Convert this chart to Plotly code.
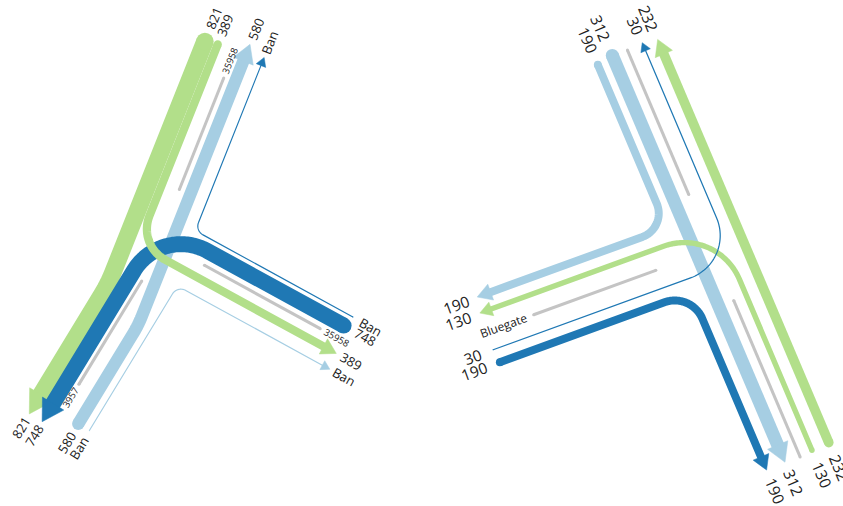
import numpy as np
import plotly.graph_objects as go

# ---------------- data ----------------
# Left junction: flows between the north (N), east (E) and south-west (SW) arms
left_values = [821, 748, 580, 389, 55, 55]
left_labels = ["821", "748", "580", "389", "Ban", "Ban"]
left_from = ["N", "E", "SW", "N", "E", "SW"]
left_to = ["SW", "SW", "N", "E", "N", "E"]
left_road_names = {"N": "35958", "E": "35958", "SW": "3957"}

# Right junction: main road (N/S) with a side road to the west (W)
right_values = [190, 312, 30, 232, 130, 190]
right_labels = ["190", "312", "30", "232", "130", "190"]
right_from = ["N", "N", "W", "S", "S", "W"]
right_to = ["W", "S", "N", "N", "W", "S"]
right_road_names = {"W": "Bluegate"}

# ---------------- styling / layout ----------------
GREEN, DARK, LIGHT, GRAY = "#b2df8a", "#1f78b4", "#a6cee3", "#c4c4c4"

left_geo = dict(
    center=(172, 235),
    arms={"N": -68.3, "E": 28.7, "SW": 121.3},
    colors=[GREEN, DARK, LIGHT, GREEN, DARK, LIGHT],
    lanes=[(-41, 29), (-3, 14), (-18, 2), (-28, 25), (-15, 20), (-31, 42)],
    reach=[(192, 227), (194, 227), (210, 206), (194, 201), (198, 199), (210, 203)],
    radius=[150, 55, 120, 35, 10, 10],
    order=[2, 0, 1, 3, 5, 4],
    max_width=17.5,
    medians={"N": (-10, 45, 165), "E": (11, 43, 175), "SW": (2, 55, 176)},
    font=13, name_font=9.5, gap=5,
)

right_geo = dict(
    center=(712.2, 249.8),
    arms={"N": -113.0, "S": 67.0, "W": 160.0},
    colors=[LIGHT, LIGHT, DARK, GREEN, GREEN, DARK],
    lanes=[(-33, 36), (-16, 16), (-19, 16.5), (-32, 32), (-13.5, 20), (-33, 36)],
    reach=[(215, 237), (218, 224), (240, 218), (223, 215), (223.5, 240), (238, 224)],
    radius=[25, None, 45, None, 60, 30],
    order=[1, 3, 0, 5, 4, 2],
    max_width=13.0,
    medians={"N": (0, 60, 217), "S": (0, 55, 225), "W": (0, 60, 190)},
    font=15.5, name_font=12, gap=9,
)


def arm_vec(deg):
    a = np.radians(deg)
    return np.array([np.cos(a), np.sin(a)])


def perp(v):
    return np.array([-v[1], v[0]])


def lane_pt(center, deg, dist, off):
    u = arm_vec(deg)
    return np.asarray(center, float) + u * dist + perp(u) * off


def text_angle(deg):
    return (deg + 90) % 180 - 90


def flow_geometry(center, arms, a_from, off_from, d_from, a_to, off_to, d_to, radius, head_len):
    """Straight run in along one arm, a circular fillet, straight run out along another."""
    u1, u2 = arm_vec(arms[a_from]), arm_vec(arms[a_to])
    p1 = lane_pt(center, arms[a_from], d_from, off_from)
    p2 = lane_pt(center, arms[a_to], d_to, off_to)
    d1, d2 = -u1, u2
    end = p2 - d2 * (head_len - 1.0)
    cr = d1[0] * d2[1] - d1[1] * d2[0]
    if radius is None or abs(cr) < 1e-6:
        return np.array([p1, end]), p1, p2, d2
    t1, _ = np.linalg.solve(np.column_stack([d1, -d2]), p2 - p1)
    corner = p1 + d1 * t1
    phi = np.arctan2(cr, d1 @ d2)
    tl = radius * np.tan(abs(phi) / 2)
    a_pt = corner - d1 * tl
    o = a_pt + np.sign(cr) * radius * perp(d1)
    a0 = np.arctan2(a_pt[1] - o[1], a_pt[0] - o[0])
    ang = a0 + phi * np.linspace(0, 1, 60)
    arc = o + radius * np.column_stack([np.cos(ang), np.sin(ang)])
    return np.vstack([p1, arc, end]), p1, p2, d2


fig = go.Figure()
annotations = []


def draw_junction(geo, values, labels, froms, tos, road_names):
    c, arms = geo["center"], geo["arms"]
    scale = geo["max_width"] / max(values)
    fs, gap = geo["font"], geo["gap"]

    # median separators with their road names
    for arm, (off, s0, s1) in geo["medians"].items():
        a, b = lane_pt(c, arms[arm], s0, off), lane_pt(c, arms[arm], s1, off)
        fig.add_trace(go.Scatter(x=[a[0], b[0]], y=[a[1], b[1]], mode="lines+markers",
                                 line=dict(color=GRAY, width=3),
                                 marker=dict(size=3, color=GRAY),
                                 hoverinfo="skip", showlegend=False))
        name = road_names.get(arm)
        if name:
            nlen = len(name) * 0.56 * geo["name_font"]
            p = lane_pt(c, arms[arm], s1 + 5 + nlen / 2, off)
            annotations.append(dict(x=p[0], y=p[1], text=name, showarrow=False,
                                    textangle=text_angle(arms[arm]),
                                    font=dict(family="Open Sans", size=geo["name_font"], color="#222"),
                                    xanchor="center", yanchor="middle"))

    for i in geo["order"]:
        w = values[i] * scale
        col = geo["colors"][i]
        hw = w + 9
        hl = 0.85 * hw
        (o1, o2), (s1, s2) = geo["lanes"][i], geo["reach"][i]
        pts, p1, p2, d2 = flow_geometry(c, arms, froms[i], o1, s1, tos[i], o2, s2,
                                        geo["radius"][i], hl)
        fig.add_trace(go.Scatter(x=pts[:, 0], y=pts[:, 1], mode="lines",
                                 line=dict(color=col, width=w, simplify=False),
                                 hoverinfo="skip", showlegend=False))
        fig.add_trace(go.Scatter(x=[p1[0]], y=[p1[1]], mode="markers",
                                 marker=dict(size=w, color=col, line=dict(width=0)),
                                 hoverinfo="skip", showlegend=False))
        base = p2 - d2 * hl
        n = perp(d2) * hw / 2
        tri = np.array([p2, base + n, base - n, p2])
        fig.add_trace(go.Scatter(x=tri[:, 0], y=tri[:, 1], mode="lines", fill="toself",
                                 fillcolor=col, line=dict(color=col, width=0.5),
                                 hoverinfo="skip", showlegend=False))

        # value labels at both ends of the flow
        tlen = len(labels[i]) * 0.58 * fs
        for arm, off, dist, extra in ((froms[i], o1, s1, max(w / 2, 4)), (tos[i], o2, s2, 0)):
            p = lane_pt(c, arms[arm], dist + extra + gap + tlen / 2, off)
            annotations.append(dict(x=p[0], y=p[1], text=labels[i], showarrow=False,
                                    textangle=text_angle(arms[arm]),
                                    font=dict(family="Open Sans", size=fs, color="#222"),
                                    xanchor="center", yanchor="middle"))


draw_junction(left_geo, left_values, left_labels, left_from, left_to, left_road_names)
draw_junction(right_geo, right_values, right_labels, right_from, right_to, right_road_names)

fig.update_layout(
    width=843, height=506, autosize=False,
    margin=dict(l=0, r=0, t=0, b=0),
    paper_bgcolor="white", plot_bgcolor="white",
    xaxis=dict(range=[0, 843], visible=False, fixedrange=True),
    yaxis=dict(range=[506, 0], visible=False, fixedrange=True),
    annotations=annotations,
    showlegend=False,
)

fig.write_html("out.html")
